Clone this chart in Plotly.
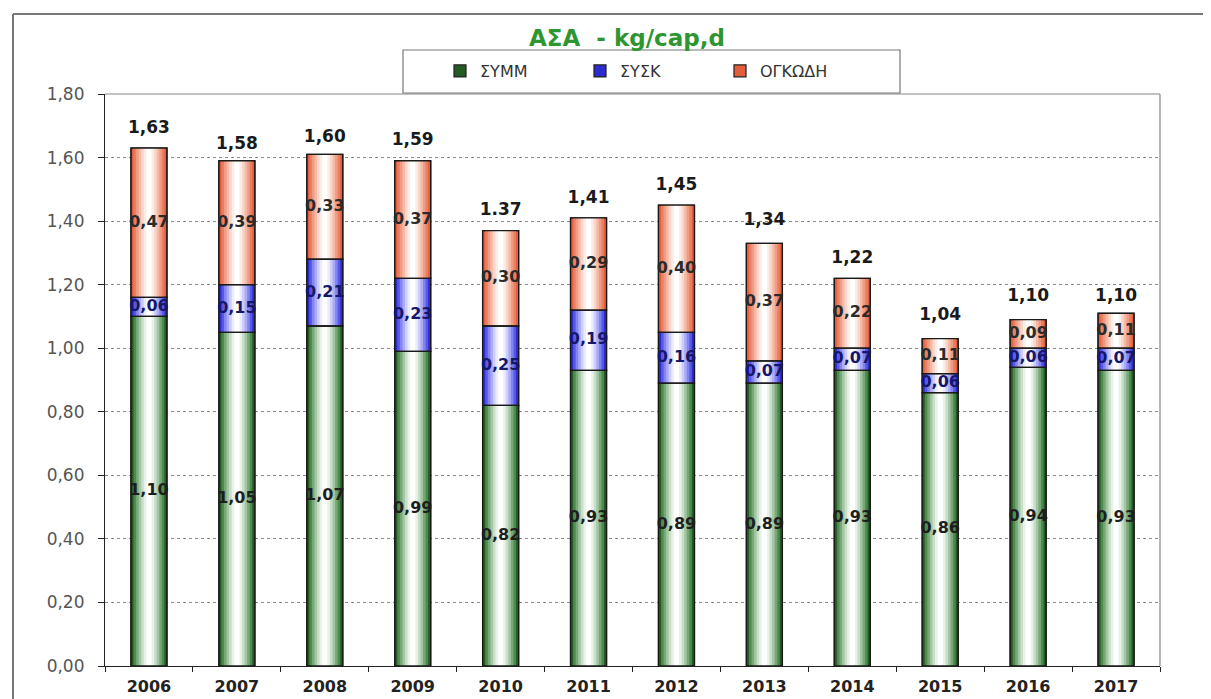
import plotly.graph_objects as go

years = ["2006", "2007", "2008", "2009", "2010", "2011", "2012", "2013", "2014", "2015", "2016", "2017"]
symm = [1.10, 1.05, 1.07, 0.99, 0.82, 0.93, 0.89, 0.89, 0.93, 0.86, 0.94, 0.93]
sysk = [0.06, 0.15, 0.21, 0.23, 0.25, 0.19, 0.16, 0.07, 0.07, 0.06, 0.06, 0.07]
ogkodh = [0.47, 0.39, 0.33, 0.37, 0.30, 0.29, 0.40, 0.37, 0.22, 0.11, 0.09, 0.11]
totals = [1.63, 1.58, 1.60, 1.59, 1.37, 1.41, 1.45, 1.34, 1.22, 1.04, 1.10, 1.10]
total_labels = ["1,63", "1,58", "1,60", "1,59", "1.37", "1,41", "1,45", "1,34", "1,22", "1,04", "1,10", "1,10"]
series_names = ["ΣΥΜΜ", "ΣΥΣΚ", "ΟΓΚΩΔΗ"]

FONT = "DejaVu Sans, Arial, sans-serif"
BAR_W = 0.41
gradients = [
    ["#245a24", "#4d8a4d", "#78a878", "#a2c6a2", "#c8dec8", "#e8f2e8", "#ffffff"],
    ["#2c2cd0", "#5858e6", "#8484f0", "#aaaaf6", "#cdcdfa", "#ebebfe", "#ffffff"],
    ["#e25e3c", "#ea7e62", "#f09c84", "#f5baa6", "#f9d6ca", "#fcece6", "#ffffff"],
]
label_colors = ["#1e1e1e", "#16166a", "#2a2a2a"]

values = [symm, sysk, ogkodh]
bases = [[0.0] * len(years)]
for s in values[:-1]:
    bases.append([b + v for b, v in zip(bases[-1], s)])

fig = go.Figure()
n = len(gradients[0])
for si, (vals, base, cols) in enumerate(zip(values, bases, gradients)):
    for i, c in enumerate(cols):
        w = BAR_W * (1 - i / n)
        fig.add_trace(go.Bar(
            x=years, y=vals, base=base, width=w, name=series_names[si],
            marker=dict(color=c, line=dict(width=1.2 if i == 0 else 0, color="#222")),
            showlegend=(i == 0), legendgroup=series_names[si], hoverinfo="skip",
        ))

# outlines on top
for si, (vals, base) in enumerate(zip(values, bases)):
    fig.add_trace(go.Bar(
        x=years, y=vals, base=base, width=BAR_W,
        marker=dict(color="rgba(0,0,0,0)", line=dict(width=1.3, color="#1a1a1a")),
        showlegend=False, hoverinfo="skip",
    ))

# segment labels
for si, (vals, base) in enumerate(zip(values, bases)):
    fig.add_trace(go.Scatter(
        x=years, y=[b + v / 2 for b, v in zip(base, vals)],
        text=[f"{v:.2f}".replace(".", ",") for v in vals],
        mode="text", textposition="middle center",
        textfont=dict(family=FONT, size=16, color=label_colors[si], weight="bold"),
        showlegend=False, hoverinfo="skip", cliponaxis=False,
    ))

# totals
fig.add_trace(go.Scatter(
    x=years, y=totals, text=total_labels, mode="markers+text", textposition="top center",
    marker=dict(size=16, color="rgba(0,0,0,0)"),
    textfont=dict(family=FONT, size=17, color="#1a1a1a", weight="bold"),
    showlegend=False, hoverinfo="skip", cliponaxis=False,
))

# page coordinates of the plot area (page has an 8px body margin)
OFF = 8
X0, X1, Y0, Y1 = 105, 1160, 94, 666
W, H = 1211, 699
L, R, T, B = X0 - OFF, W + OFF - X1, Y0 - OFF, H + OFF - Y1
PW, PH = X1 - X0, Y1 - Y0
def px(x):
    return (x - X0) / PW
def py(y):
    return (Y1 - y) / PH

shapes = [
    # outer frame
    dict(type="line", xref="paper", yref="paper", x0=px(13), x1=px(1225), y0=py(14), y1=py(14),
         line=dict(color="#777", width=2)),
    dict(type="line", xref="paper", yref="paper", x0=px(13), x1=px(13), y0=py(14), y1=py(710),
         line=dict(color="#777", width=2)),
    # plot top and right border
    dict(type="line", xref="paper", yref="paper", x0=0, x1=1, y0=1, y1=1, line=dict(color="#888", width=1.2)),
    dict(type="line", xref="paper", yref="paper", x0=1, x1=1, y0=0, y1=1, line=dict(color="#888", width=1.2)),
    # legend box
    dict(type="rect", xref="paper", yref="paper", x0=px(403), x1=px(900), y0=py(93), y1=py(50),
         line=dict(color="#777", width=1.2), fillcolor="white"),
]

fig.update_layout(
    width=W, height=H,
    margin=dict(l=L, r=R, t=T, b=B),
    paper_bgcolor="white", plot_bgcolor="white",
    barmode="overlay",
    separators=",.",
    font=dict(family=FONT, color="#333"),
    shapes=shapes,
    annotations=[dict(text="<b>ΑΣΑ  - kg/cap,d</b>", xref="paper", yref="paper", x=px(627), y=py(38),
                      xanchor="center", yanchor="middle", showarrow=False,
                      font=dict(family=FONT, size=23, color="#2e9630"))],
    legend=dict(orientation="h", x=px(440), y=py(71), xanchor="left", yanchor="middle",
                entrywidth=95, entrywidthmode="pixels", bgcolor="rgba(0,0,0,0)",
                font=dict(family=FONT, size=16, color="#333"), itemwidth=30,
                traceorder="normal"),
    xaxis=dict(type="category", range=[-0.5, len(years) - 0.5], showline=True, linecolor="#222",
               linewidth=1.2, ticks="outside", tickson="boundaries", ticklen=5, tickcolor="#222",
               tickfont=dict(family=FONT, size=16, color="#222", weight="bold"),
               ticklabelstandoff=6, showgrid=False),
    yaxis=dict(range=[0, 1.8], dtick=0.2, tickformat=".2f", showline=True, linecolor="#222",
               linewidth=1.2, ticks="outside", ticklen=6, tickcolor="#222",
               tickfont=dict(family=FONT, size=17, color="#555"), ticklabelstandoff=10,
               showgrid=True, gridcolor="#8a8a8a", griddash="dot", gridwidth=1, zeroline=False),
)

fig.write_html("out.html")
